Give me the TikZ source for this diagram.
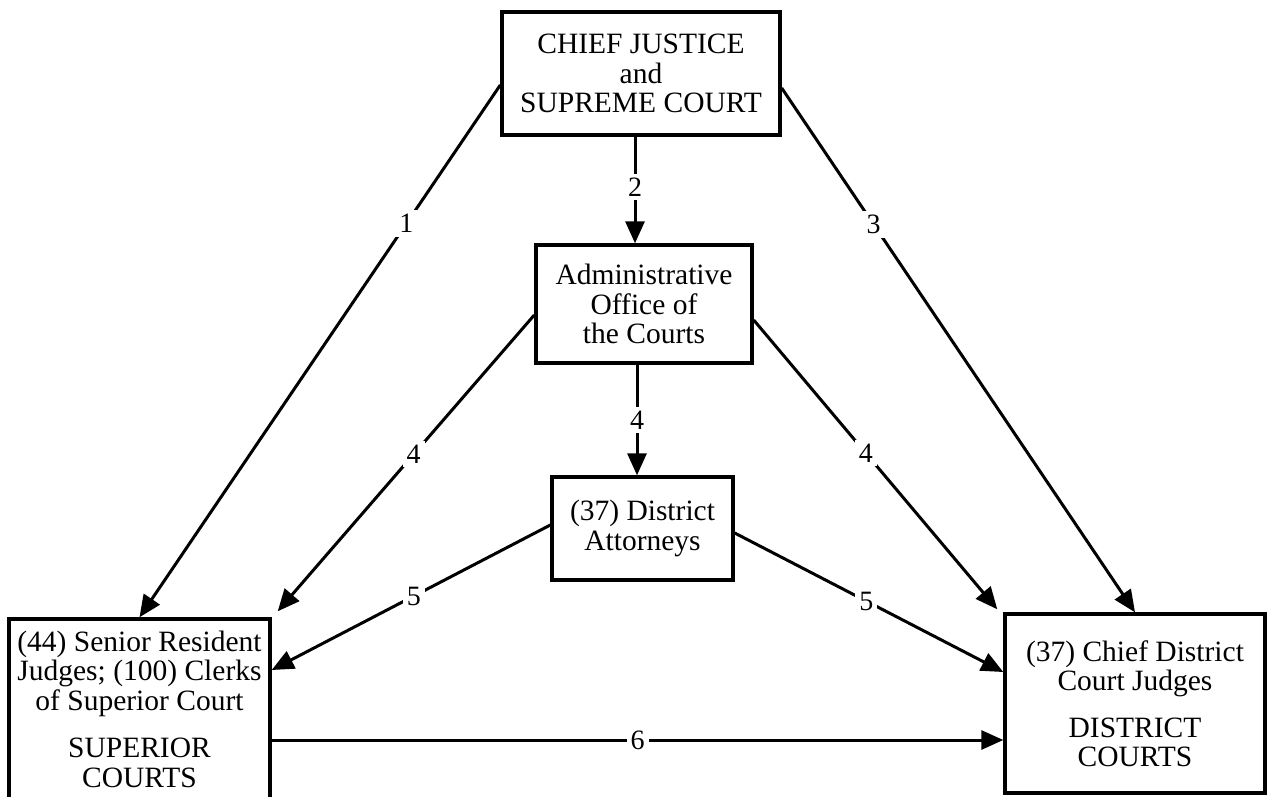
\documentclass[tikz,border=0pt]{standalone}
\usepackage{fontspec}
\setmainfont{Liberation Serif}
\usetikzlibrary{arrows.meta,calc}
\begin{document}
\begin{tikzpicture}[x=1pt,y=-1pt,
  box/.style={draw, line width=3.4pt, inner sep=0pt, align=center,
    font=\fontsize{29.5}{29.5}\selectfont},
  conn/.style={line width=3pt, -{Triangle[length=22pt,width=19pt]}},
  lbl/.style={fill=white, inner sep=4pt, font=\fontsize{28}{28}\selectfont},
]
\useasboundingbox (0,0) rectangle (1267,796);

\node[box, minimum width=278pt, minimum height=123pt] (top) at (641,73.5)
  {CHIEF JUSTICE\\and\\SUPREME COURT};
\node[box, minimum width=216pt, minimum height=118pt] (admin) at (644,304)
  {Administrative\\Office of\\the Courts};
\node[box, minimum width=181pt, minimum height=103pt] (da) at (642.5,528.5)
  {(37) District\\Attorneys};
\node[box, minimum width=261pt, minimum height=180pt] (sup) at (139.5,709)
  {(44) Senior Resident\\Judges; (100) Clerks\\of Superior Court\\[18pt]SUPERIOR\\COURTS};
\node[box, minimum width=260pt, minimum height=179pt] (dist) at (1135,703.5)
  {(37) Chief District\\Court Judges\\[17pt]DISTRICT\\COURTS};

\coordinate (e4l) at ($(sup.north east)+(6,-6)$);
\coordinate (e4r) at ($(dist.north west)+(-6,-3)$);

\draw[conn] (top.west |- 0,85) -- node[lbl, pos=0.26] {1} (sup.north);
\draw[conn] (635,0 |- top.south) -- node[lbl, pos=0.47] {2} (635,0 |- admin.north);
\draw[conn] (top.east |- 0,88) -- node[lbl, pos=0.26] {3} (dist.north);
\draw[conn] (admin.west |- 0,315) -- node[lbl, pos=0.47] {4} (e4l);
\draw[conn] (637,0 |- admin.south) -- node[lbl, pos=0.5] {4} (637,0 |- da.north);
\draw[conn] (admin.east |- 0,320) -- node[lbl, pos=0.46] {4} (e4r);
\draw[conn] (da.west |- 0,525) -- node[lbl, pos=0.49] {5} (sup.east |- 0,670);
\draw[conn] (da.east |- 0,533) -- node[lbl, pos=0.49] {5} (dist.west |- 0,672);
\draw[conn] (sup.east |- 0,740) -- node[lbl, pos=0.5] {6} (dist.west |- 0,740);
\end{tikzpicture}
\end{document}
